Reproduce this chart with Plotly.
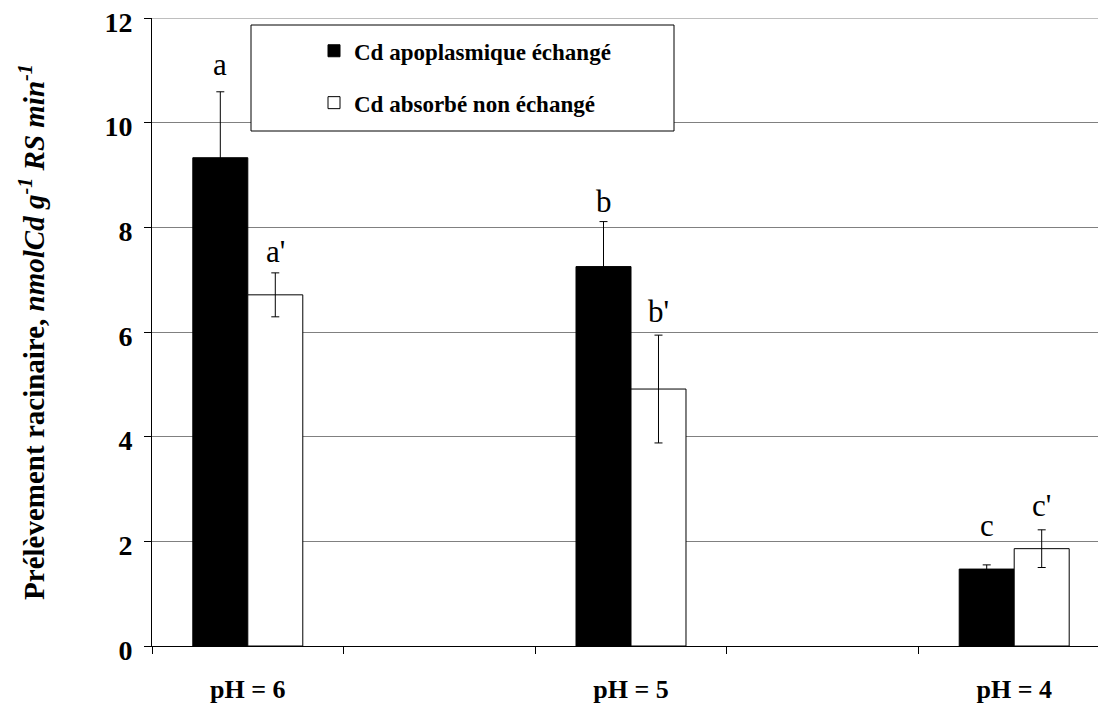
import plotly.graph_objects as go

# ---- data ----
categories = ["pH = 6", "pH = 5", "pH = 4"]
axis_order = ["pH = 6", " ", "pH = 5", "  ", "pH = 4"]

series_names = ["Cd apoplasmique échangé", "Cd absorbé non échangé"]
black_values = [9.33, 7.25, 1.47]
black_errors = [1.26, 0.86, 0.08]
white_values = [6.71, 4.91, 1.86]
white_errors = [0.42, 1.03, 0.36]

black_letters = ["a", "b", "c"]
white_letters = ["a'", "b'", "c'"]
black_letter_y = [10.9, 8.28, 2.08]
white_letter_y = [7.32, 6.18, 2.47]

y_ticks = [0, 2, 4, 6, 8, 10, 12]

FONT = "Liberation Serif"
BARGAP = 0.426

# plot area (page pixels) used for the legend frame in paper units
PL, PR, PT, PB = 152, 1110, 18, 646
PW, PH = PR - PL, PB - PT

fig = go.Figure()
fig.add_trace(go.Bar(
    name="<b>" + series_names[0] + "</b>", x=categories, y=black_values,
    marker=dict(color="black", line=dict(color="black", width=1)),
    error_y=dict(type="data", array=black_errors, color="black", thickness=1, width=4),
    legendgroup="g1",
))
fig.add_trace(go.Bar(
    name="<b>" + series_names[1] + "</b>", x=categories, y=white_values,
    marker=dict(color="white", line=dict(color="black", width=1)),
    error_y=dict(type="data", array=white_errors, color="black", thickness=1, width=4),
    legendgroup="g2",
))

half = (1 - BARGAP) / 4
annotations = []
for cat, lb, yb, lw, yw in zip(categories, black_letters, black_letter_y, white_letters, white_letter_y):
    idx = axis_order.index(cat)
    annotations.append(dict(x=idx - half, y=yb, xref="x", yref="y", text=lb, showarrow=False,
                            yanchor="bottom", yshift=-8, font=dict(family=FONT, size=31, color="black")))
    annotations.append(dict(x=idx + half, y=yw, xref="x", yref="y", text=lw, showarrow=False,
                            yanchor="bottom", yshift=-8, font=dict(family=FONT, size=31, color="black")))

fig.update_layout(
    width=1106, height=704,
    margin=dict(l=144, r=4, t=10, b=66, autoexpand=False),
    paper_bgcolor="white", plot_bgcolor="white",
    barmode="group", bargap=BARGAP, bargroupgap=0,
    font=dict(family=FONT, color="black"),
    showlegend=True,
    legend=dict(x=(314 - PL) / PW, y=0.982, xanchor="left", yanchor="top",
                bgcolor="rgba(0,0,0,0)", borderwidth=0,
                font=dict(family=FONT, size=23, color="black"),
                tracegroupgap=19, traceorder="grouped"),
    annotations=annotations,
    shapes=[
        dict(type="line", xref="paper", yref="y", x0=0, x1=1, y0=y_ticks[-1], y1=y_ticks[-1],
             line=dict(color="#a8a8a8", width=1.5), layer="below"),
        dict(type="rect", xref="paper", yref="paper",
             x0=(251 - PL) / PW, x1=(674 - PL) / PW,
             y0=(PB - 131) / PH, y1=(PB - 25) / PH,
             line=dict(color="black", width=1), fillcolor="white", layer="above"),
    ],
)

fig.update_xaxes(
    type="category", categoryorder="array", categoryarray=axis_order,
    range=[-0.5, 4.5], tickson="boundaries", ticks="outside", ticklen=7,
    tickcolor="black", tickwidth=1, showline=True, linecolor="black", linewidth=1,
    showgrid=False, automargin=False,
    tickfont=dict(family=FONT, size=26, color="black", weight="bold"),
    ticklabelstandoff=20, ticklabeloverflow="allow",
)
fig.update_yaxes(
    range=[0, 12], tickvals=y_ticks, ticks="outside", ticklen=7, tickcolor="black",
    showline=True, linecolor="black", linewidth=1, automargin=False,
    showgrid=True, gridcolor="#808080", gridwidth=1, zeroline=False,
    tickfont=dict(family=FONT, size=28, color="black", weight="bold"),
    ticklabelstandoff=6, ticklabelshift=4, ticklabeloverflow="allow",
    title=dict(text="<b>Prélèvement racinaire, <i>nmolCd g<sup>-1</sup> RS min<sup>-1</sup></i></b>",
               font=dict(family=FONT, size=29, color="black"), standoff=51),
)

fig.write_html("out.html")
